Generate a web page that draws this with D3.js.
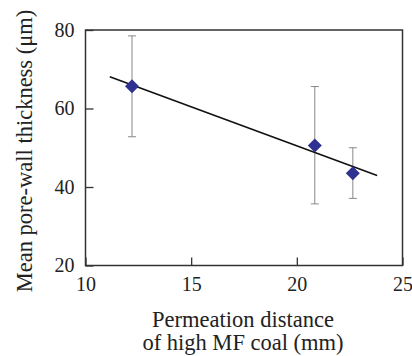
<!DOCTYPE html>
<head>
  <meta charset="utf-8">
  <script src="https://d3js.org/d3.v7.min.js"></script>
  <style>
    body { margin: 0; background: #fff; }
    .axis text { font-family: "Liberation Serif", "DejaVu Serif", serif; font-size: 20px; fill: #222; }
    .label { font-family: "Liberation Serif", "DejaVu Serif", serif; font-size: 22.5px; fill: #222; }
  </style>
</head>
<body>
<script>
  // data
  var distance = [12.2, 20.85, 22.65];
  var thickness = [65.7, 50.6, 43.5];
  var errHigh = [78.5, 65.6, 50.0];
  var errLow = [52.8, 35.7, 37.1];
  var fitX = [11.15, 23.8];
  var fitY = [68.1, 42.9];
  var xTicks = [10, 15, 20, 25];
  var yTicks = [20, 40, 60, 80];

  var w = 412, h = 356;
  var padL = 85.5, padR = 402.5, padT = 30, padB = 265.5;

  var svg = d3.select("body").append("svg")
    .attr("width", w).attr("height", h);

  var x = d3.scaleLinear().domain([10, 25]).range([padL, padR]);
  var y = d3.scaleLinear().domain([20, 80]).range([padB, padT]);

  // frame
  svg.append("rect")
    .attr("x", padL).attr("y", padT)
    .attr("width", padR - padL).attr("height", padB - padT)
    .attr("fill", "none").attr("stroke", "#333").attr("stroke-width", 1.5);

  var xAxis = svg.append("g").attr("class", "axis")
    .attr("transform", "translate(0," + padB + ")")
    .call(d3.axisBottom(x).tickValues(xTicks).tickSize(-8).tickPadding(6));
  var yAxis = svg.append("g").attr("class", "axis")
    .attr("transform", "translate(" + padL + ",0)")
    .call(d3.axisLeft(y).tickValues(yTicks).tickSize(-8).tickPadding(11));
  [xAxis, yAxis].forEach(function(a) {
    a.select(".domain").remove();
    a.selectAll("line").attr("stroke", "#333").attr("stroke-width", 1.3);
  });
  xAxis.selectAll("text").attr("dy", "0.95em");

  // error bars
  var idx = d3.range(distance.length);
  var eb = svg.append("g").attr("stroke", "#888").attr("stroke-width", 1);
  eb.selectAll(".v").data(idx).enter().append("line")
    .attr("x1", function(i) { return x(distance[i]); })
    .attr("x2", function(i) { return x(distance[i]); })
    .attr("y1", function(i) { return y(errHigh[i]); })
    .attr("y2", function(i) { return y(errLow[i]); });
  [errHigh, errLow].forEach(function(arr) {
    eb.selectAll(null).data(idx).enter().append("line")
      .attr("x1", function(i) { return x(distance[i]) - 4; })
      .attr("x2", function(i) { return x(distance[i]) + 4; })
      .attr("y1", function(i) { return y(arr[i]); })
      .attr("y2", function(i) { return y(arr[i]); });
  });

  // trend line
  svg.append("line")
    .attr("x1", x(fitX[0])).attr("y1", y(fitY[0]))
    .attr("x2", x(fitX[1])).attr("y2", y(fitY[1]))
    .attr("stroke", "#111").attr("stroke-width", 1.6);

  // markers
  svg.selectAll(".pt").data(idx).enter().append("path")
    .attr("d", "M0,-7L7,0L0,7L-7,0Z")
    .attr("transform", function(i) { return "translate(" + x(distance[i]) + "," + y(thickness[i]) + ")"; })
    .attr("fill", "#2e3192");

  svg.append("text").attr("class", "label")
    .attr("transform", "translate(32,151) rotate(-90)")
    .attr("text-anchor", "middle")
    .text("Mean pore-wall thickness (μm)");

  svg.append("text").attr("class", "label")
    .attr("x", 243).attr("y", 327).attr("text-anchor", "middle")
    .text("Permeation distance");
  svg.append("text").attr("class", "label")
    .attr("x", 243).attr("y", 350).attr("text-anchor", "middle")
    .text("of high MF coal (mm)");
</script>
</body>
